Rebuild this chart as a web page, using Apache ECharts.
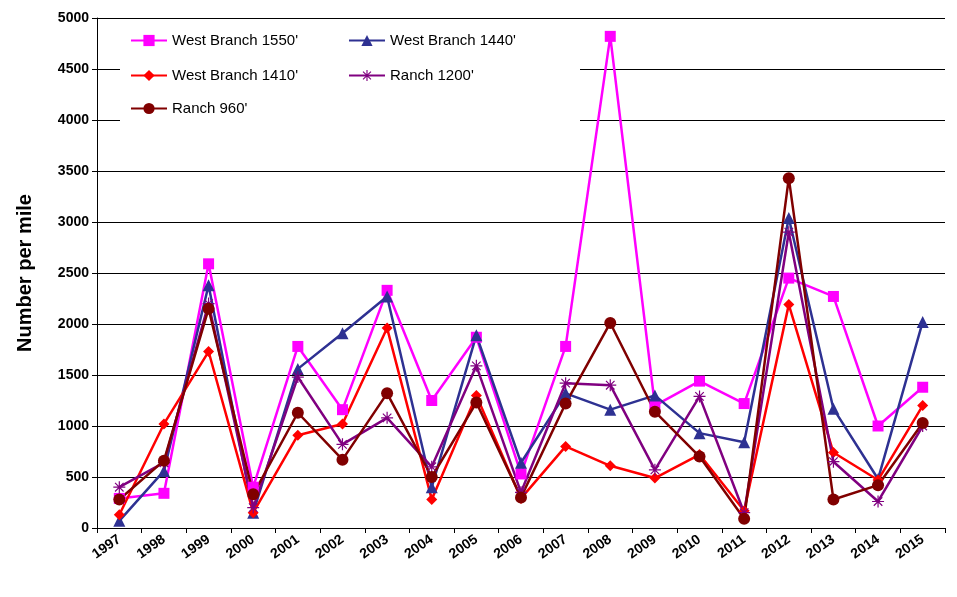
<!DOCTYPE html>
<html><head><meta charset="utf-8">
<script src="https://cdn.jsdelivr.net/npm/echarts@6/dist/echarts.min.js"></script>
<style>html,body{margin:0;padding:0;background:#fff}#c{width:957px;height:597px}</style>
</head><body><div id="c"></div>
<script>
const years=['1997','1998','1999','2000','2001','2002','2003','2004','2005','2006','2007','2008','2009','2010','2011','2012','2013','2014','2015'];
const wb1550=[290,340,2590,400,1780,1160,2330,1250,1870,530,1780,4820,1200,1440,1220,2450,2270,1000,1380];
const wb1440=[70,560,2380,150,1560,1910,2270,400,1890,640,1320,1160,1300,930,840,3040,1170,480,2020];
const wb1410=[130,1020,1730,150,910,1020,1960,280,1300,290,800,610,490,720,170,2190,740,470,1200];
const r1200=[400,640,2200,200,1480,820,1080,600,1590,350,1420,1400,570,1290,150,2900,650,260,1000];
const r960=[280,660,2150,330,1130,670,1320,500,1230,300,1220,2010,1140,700,90,3430,280,420,1030];
const star='path://M-1,-10L1,-10L1,10L-1,10Z M-10,-1L10,-1L10,1L-10,1Z M-7.8,-6.4L-6.4,-7.8L7.8,6.4L6.4,7.8Z M6.4,-7.8L7.8,-6.4L-6.4,7.8L-7.8,6.4Z';
function s(name,data,color,symbol,size){return {name,type:'line',data,symbol,symbolSize:size,lineStyle:{width:2.5,color},itemStyle:{color},z:3};}
const chart=echarts.init(document.getElementById('c'));
const lt={fontFamily:'Liberation Sans, Arial',fontSize:15,color:'#000'};
chart.setOption({
 animation:false,
 grid:{left:97,right:12,top:18,bottom:69},
 graphic:[{type:'rect',left:120,top:24,shape:{width:460,height:100},style:{fill:'#fff'},z:1}],
 legend:[
  {data:['West Branch 1550\'','West Branch 1440\''],left:125,top:28,itemGap:50,textStyle:lt,itemWidth:36,z:5},
  {data:['West Branch 1410\'','Ranch 1200\''],left:125,top:63,itemGap:50,textStyle:lt,itemWidth:36,z:5},
  {data:['Ranch 960\''],left:125,top:96,textStyle:lt,itemWidth:36,z:5}
 ],
 xAxis:{type:'category',data:years,boundaryGap:true,axisLine:{lineStyle:{color:'#000',width:1}},axisTick:{show:true,lineStyle:{color:'#000'}},
  axisLabel:{rotate:35,interval:0,fontWeight:'bold',fontSize:14,color:'#000',fontFamily:'Liberation Sans, Arial',margin:10}},
 yAxis:{type:'value',min:0,max:5000,interval:500,name:'Number per mile',nameLocation:'middle',nameGap:62,
  nameTextStyle:{fontWeight:'bold',fontSize:20,color:'#000',fontFamily:'Liberation Sans, Arial'},
  axisLine:{show:true,lineStyle:{color:'#000'}},axisTick:{show:true,lineStyle:{color:'#000'}},
  axisLabel:{fontWeight:'bold',fontSize:14,color:'#000',fontFamily:'Liberation Sans, Arial',formatter:v=>String(v)},
  splitLine:{lineStyle:{color:'#000',width:1}}},
 series:[
  s('West Branch 1550\'',wb1550,'#ff00ff','rect',11),
  s('West Branch 1440\'',wb1440,'#2e3192','triangle',12),
  s('West Branch 1410\'',wb1410,'#ff0000','diamond',11),
  s('Ranch 1200\'',r1200,'#800080',star,12),
  s('Ranch 960\'',r960,'#800000','circle',12)
 ]
});
</script></body></html>
